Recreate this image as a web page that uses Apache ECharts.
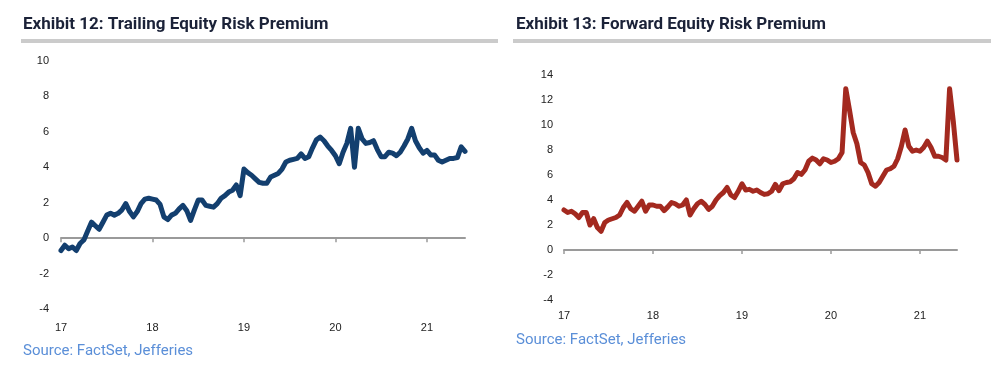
<!DOCTYPE html>
<html>
<head>
<meta charset="utf-8">
<script src="https://cdn.jsdelivr.net/npm/echarts@6/dist/echarts.min.js"></script>
<style>
html,body{margin:0;padding:0;background:#fff;}
#c{width:1000px;height:365px;}
</style>
</head>
<body>
<div id="c"></div>
<script>
// Semi-monthly observations, Jan 2017 .. mid-2021
const titleLeft = 'Exhibit 12: Trailing Equity Risk Premium';
const titleRight = 'Exhibit 13: Forward Equity Risk Premium';
const sourceText = 'Source: FactSet, Jefferies';
const yearLabels = ['17', '18', '19', '20', '21'];

const trailingERP = [
  -0.7, -0.4, -0.6, -0.5, -0.7, -0.3, -0.1, 0.4, 0.9, 0.7, 0.5, 0.9,
  1.3, 1.4, 1.3, 1.4, 1.6, 1.95, 1.5, 1.2, 1.5, 1.95, 2.2, 2.25,
  2.2, 2.15, 1.9, 1.2, 1.05, 1.3, 1.4, 1.65, 1.85, 1.55, 1.0, 1.6,
  2.15, 2.15, 1.85, 1.8, 1.75, 1.95, 2.25, 2.4, 2.6, 2.7, 3.0, 2.4,
  3.9, 3.7, 3.55, 3.35, 3.15, 3.1, 3.1, 3.45, 3.55, 3.65, 3.9, 4.3,
  4.4, 4.45, 4.5, 4.75, 4.5, 4.6, 5.1, 5.55, 5.7, 5.5, 5.2, 4.95,
  4.65, 4.2, 4.85, 5.35, 6.2, 4.0, 6.2, 5.6, 5.35, 5.4, 5.5, 5.0,
  4.6, 4.6, 4.85, 4.8, 4.65, 4.85, 5.2, 5.6, 6.2, 5.5, 5.1, 4.8,
  4.95, 4.7, 4.7, 4.4, 4.3, 4.4, 4.5, 4.5, 4.55, 5.15, 4.9
];

const forwardERP = [
  3.2, 3.0, 3.1, 2.9, 2.6, 3.0, 3.0, 2.0, 2.5, 1.8, 1.5, 2.2,
  2.4, 2.5, 2.6, 2.8, 3.4, 3.8, 3.3, 3.1, 3.5, 3.9, 3.1, 3.6,
  3.6, 3.5, 3.5, 3.15, 3.45, 3.8, 3.7, 3.5, 3.6, 4.0, 2.8, 3.3,
  3.7, 3.9, 3.65, 3.25, 3.5, 4.0, 4.35, 4.6, 5.0, 4.4, 4.2, 4.7,
  5.3, 4.8, 4.85, 4.7, 4.8, 4.6, 4.45, 4.5, 4.7, 5.25, 4.75, 5.3,
  5.4, 5.45, 5.7, 6.2, 6.05, 6.4, 7.1, 7.35, 7.2, 6.9, 7.3, 7.2,
  7.0, 7.1, 7.3, 7.8, 12.9, 11.2, 9.4, 8.5, 7.0, 6.8, 6.2, 5.3,
  5.1, 5.4, 5.9, 6.4, 6.5, 6.7, 7.3, 8.3, 9.6, 8.3, 7.9, 8.0,
  7.9, 8.2, 8.7, 8.2, 7.5, 7.5, 7.4, 7.2, 12.9, 10.3, 7.2
];

// category dates (1st and 16th of each month)
const dates = [];
for (let i = 0; i < trailingERP.length; i++) {
  const y = 2017 + Math.floor(i / 24);
  const m = Math.floor((i % 24) / 2) + 1;
  const d = (i % 2) ? 16 : 1;
  dates.push(y + '-' + String(m).padStart(2, '0') + '-' + String(d).padStart(2, '0'));
}
const isYearStart = (idx) => idx % 24 === 0;
const yearLabel = (v) => yearLabels[parseInt(v.slice(0, 4), 10) - 2017];

const chart = echarts.init(document.getElementById('c'), null, {renderer: 'canvas'});

const labelFont = {fontFamily: 'Liberation Sans', fontSize: 11, color: '#222'};

function axisPair(gridIndex, labelMargin) {
  return [
    {
      type: 'category', gridIndex: gridIndex, data: dates, boundaryGap: false,
      position: 'bottom',
      axisLine: {show: true, onZero: true, lineStyle: {color: '#9a9a9a', width: 2}},
      axisTick: {show: true, interval: isYearStart, length: 4, lineStyle: {color: '#9a9a9a', width: 1.5}},
      axisLabel: {show: false},
      splitLine: {show: false}
    },
    {
      type: 'category', gridIndex: gridIndex, data: dates, boundaryGap: false,
      position: 'bottom',
      axisLine: {show: false, onZero: false},
      axisTick: {show: false},
      axisLabel: Object.assign({show: true, interval: isYearStart, margin: labelMargin, formatter: yearLabel}, labelFont),
      splitLine: {show: false}
    }
  ];
}

const option = {
  animation: false,
  backgroundColor: '#fff',
  grid: [
    {left: 61, top: 61, width: 404, height: 248, containLabel: false},
    {left: 564, top: 75, width: 393, height: 225, containLabel: false}
  ],
  xAxis: [].concat(axisPair(0, 13), axisPair(1, 10)),
  yAxis: [
    {
      type: 'value', gridIndex: 0, min: -4, max: 10, interval: 2,
      axisLine: {show: false}, axisTick: {show: false}, splitLine: {show: false},
      axisLabel: Object.assign({margin: 12}, labelFont)
    },
    {
      type: 'value', gridIndex: 1, min: -4, max: 14, interval: 2,
      axisLine: {show: false}, axisTick: {show: false}, splitLine: {show: false},
      axisLabel: Object.assign({margin: 11}, labelFont)
    }
  ],
  series: [
    {
      type: 'line', xAxisIndex: 0, yAxisIndex: 0, data: trailingERP,
      showSymbol: false, symbol: 'none',
      lineStyle: {color: '#133f6f', width: 5, join: 'round', cap: 'round'}
    },
    {
      type: 'line', xAxisIndex: 2, yAxisIndex: 1, data: forwardERP,
      showSymbol: false, symbol: 'none',
      lineStyle: {color: '#a3291f', width: 5, join: 'round', cap: 'round'}
    }
  ],
  graphic: [
    {type: 'text', left: 23, top: 16, style: {text: titleLeft, font: 'bold 17px Roboto', fill: '#1b2238'}},
    {type: 'rect', shape: {x: 21, y: 39, width: 477, height: 4}, style: {fill: '#cbcbcb'}},
    {type: 'text', left: 516, top: 16, style: {text: titleRight, font: 'bold 17px Roboto', fill: '#1b2238'}},
    {type: 'rect', shape: {x: 513, y: 39, width: 478, height: 4}, style: {fill: '#cbcbcb'}},
    {type: 'text', left: 23, top: 344, style: {text: sourceText, font: '15px Roboto', fill: '#5b8fd8'}},
    {type: 'text', left: 516, top: 333, style: {text: sourceText, font: '15px Roboto', fill: '#5b8fd8'}}
  ]
};
chart.setOption(option);
</script>
</body>
</html>
